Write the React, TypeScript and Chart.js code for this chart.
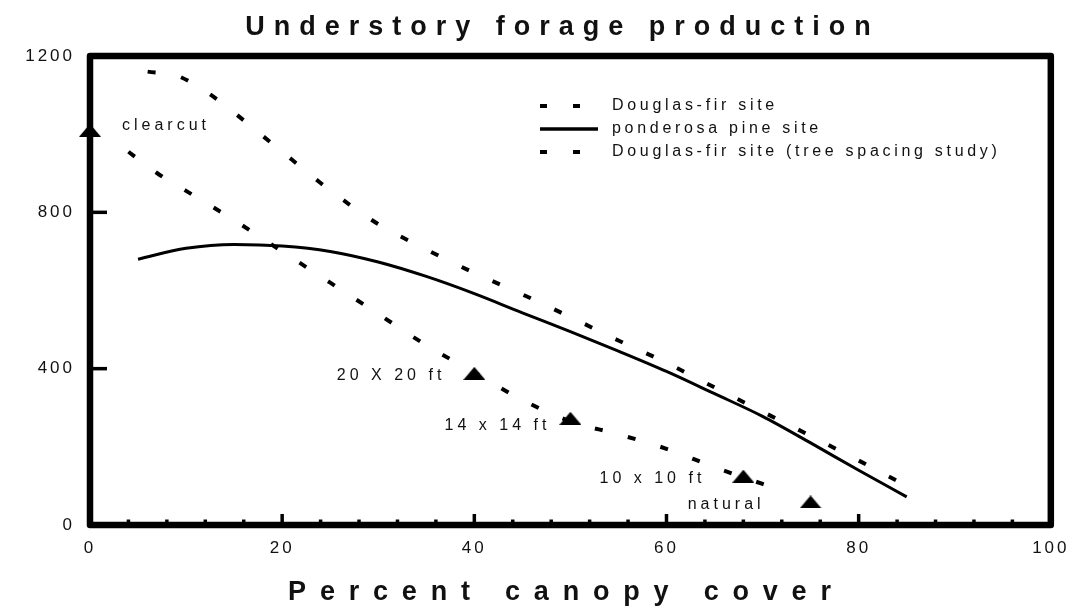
import { useEffect, useRef } from "react";
import { Chart, registerables } from "chart.js";

Chart.register(...registerables);

// ---------- data ----------
const douglasX = [6, 9, 12, 15, 18, 21, 24, 27, 30, 35, 40, 45, 50, 55, 60, 65, 70, 75, 80, 85];
const douglasY = [1160, 1150, 1110, 1055, 995, 935, 875, 820, 770, 705, 645, 590, 532, 472, 415, 352, 290, 228, 165, 100];

const pineX = [5, 10, 15, 20, 25, 30, 35, 40, 45, 50, 55, 60, 65, 70, 75, 80, 85];
const pineY = [680, 708, 718, 714, 700, 673, 636, 592, 543, 495, 445, 393, 336, 278, 210, 140, 72];

const spacingX = [4, 7, 10, 15, 20, 25, 30, 35, 40, 45, 50, 55, 60, 65, 70, 72];
const spacingY = [955, 900, 855, 780, 700, 620, 540, 460, 390, 320, 265, 232, 195, 148, 105, 88];

const markerX = [0, 40, 50, 68, 75];
const markerY = [1010, 388, 273, 125, 59];
const markerLabels = ["clearcut", "20 X 20 ft", "14 x 14 ft", "10 x 10 ft", "natural"];

const seriesNames = ["Douglas-fir site", "ponderosa pine site", "Douglas-fir site (tree spacing study)"];

const titleText = "Understory forage production";
const xTitleText = "Percent canopy cover";

const xMin = 0, xMax = 100, xStep = 20, xMinorStep = 4;
const yMin = 0, yMax = 1200, yStep = 400;

// ---------- styling / placement (not data) ----------
const FONT = "Arial, 'Liberation Sans', sans-serif";
const INK = "#111";
// label offsets from each marker pixel: [dx, dy, align]
const labelOffsets: [number, number, CanvasTextAlign][] = [
  [32, -5, "left"],
  [-29, 2, "right"],
  [-20, 7, "right"],
  [-38, 2, "right"],
  [-46, 3, "right"],
];

function makeTriangle(w: number, h: number) {
  const c = document.createElement("canvas");
  c.width = w;
  c.height = h;
  const g = c.getContext("2d")!;
  g.fillStyle = "#000";
  g.beginPath();
  g.moveTo(w / 2, 0);
  g.lineTo(w, h);
  g.lineTo(0, h);
  g.closePath();
  g.fill();
  return c;
}

const toPts = (xs: number[], ys: number[]) => xs.map((x, i) => ({ x, y: ys[i] }));

const decor = {
  id: "decor",
  beforeDraw(chart: any) {
    chart.ctx.letterSpacing = "3px";
  },
  afterDraw(chart: any) {
    const { ctx, chartArea: a } = chart;
    const xs = chart.scales.x;
    const ys = chart.scales.y;
    ctx.save();
    ctx.letterSpacing = "0px";
    ctx.strokeStyle = "#000";
    ctx.lineCap = "butt";

    // inward tick marks
    ctx.lineWidth = 3.5;
    for (let v = xMin; v <= xMax + 1e-9; v += xMinorStep) {
      const px = xs.getPixelForValue(v);
      const major = Math.abs(v % xStep) < 1e-9;
      ctx.beginPath();
      ctx.moveTo(px, a.bottom);
      ctx.lineTo(px, a.bottom - (major ? 11 : 5.5));
      ctx.stroke();
    }
    ys.ticks.forEach((t: any) => {
      const py = ys.getPixelForValue(t.value);
      ctx.beginPath();
      ctx.moveTo(a.left, py);
      ctx.lineTo(a.left + 17, py);
      ctx.stroke();
    });

    // frame
    ctx.lineWidth = 6.5;
    ctx.lineJoin = "round";
    ctx.strokeRect(a.left, a.top, a.right - a.left, a.bottom - a.top);

    ctx.fillStyle = INK;
    // title
    ctx.font = `bold 27px ${FONT}`;
    ctx.letterSpacing = "9px";
    ctx.textAlign = "center";
    ctx.textBaseline = "alphabetic";
    ctx.fillText(titleText, (a.left + a.right) / 2 - 8, 35);

    // x axis title
    ctx.font = `bold 27px ${FONT}`;
    ctx.letterSpacing = "13.8px";
    ctx.fillText(xTitleText, (a.left + a.right) / 2 - 4, 600);

    // marker annotations
    ctx.font = `16px ${FONT}`;
    ctx.letterSpacing = "4px";
    ctx.textBaseline = "middle";
    markerLabels.forEach((lab, i) => {
      const [dx, dy, al] = labelOffsets[i];
      const px = xs.getPixelForValue(markerX[i]);
      const py = ys.getPixelForValue(markerY[i]);
      ctx.textAlign = al;
      ctx.fillText(lab, px + dx, py + dy);
    });

    // legend
    const lx = a.left + 450;
    const tx = a.left + 522;
    const rows = [a.top + 50, a.top + 73, a.top + 96];
    ctx.textAlign = "left";
    ctx.letterSpacing = "3.7px";
    seriesNames.forEach((name, i) => {
      const yy = rows[i];
      ctx.beginPath();
      if (i === 1) {
        ctx.setLineDash([]);
        ctx.lineWidth = 3.5;
        ctx.moveTo(lx, yy);
        ctx.lineTo(lx + 58, yy);
      } else {
        ctx.setLineDash([7, 26]);
        ctx.lineWidth = 4;
        ctx.moveTo(lx, yy);
        ctx.lineTo(lx + 42, yy);
      }
      ctx.stroke();
      ctx.setLineDash([]);
      ctx.fillText(name, tx, yy);
    });
    ctx.restore();
  },
};

export default function App() {
  const ref = useRef<HTMLCanvasElement | null>(null);
  useEffect(() => {
    const canvas = ref.current!;
    const tri = makeTriangle(22, 13);
    const chart = new Chart(canvas, {
      type: "line",
      data: {
        datasets: [
          {
            label: seriesNames[0],
            data: toPts(douglasX, douglasY),
            borderColor: "#000",
            borderWidth: 4,
            borderDash: [8, 26],
            pointRadius: 0,
            cubicInterpolationMode: "monotone",
            fill: false,
          },
          {
            label: seriesNames[1],
            data: toPts(pineX, pineY),
            borderColor: "#000",
            borderWidth: 3,
            pointRadius: 0,
            cubicInterpolationMode: "monotone",
            fill: false,
          },
          {
            label: seriesNames[2],
            data: toPts(spacingX, spacingY),
            borderColor: "#000",
            borderWidth: 4,
            borderDash: [8, 26],
            pointRadius: 0,
            cubicInterpolationMode: "monotone",
            fill: false,
          },
          {
            label: "treatments",
            data: toPts(markerX, markerY),
            showLine: false,
            pointStyle: tri as any,
            pointRadius: 11,
            backgroundColor: "#000",
            borderColor: "#000",
            clip: false as any,
          },
        ],
      },
      options: {
        animation: false,
        responsive: false,
        devicePixelRatio: 1,
        layout: { padding: { top: 56, right: 24, bottom: 0, left: 0 } },
        plugins: {
          legend: { display: false },
          title: { display: false },
          tooltip: { enabled: false },
        },
        scales: {
          x: {
            type: "linear",
            min: xMin,
            max: xMax,
            ticks: {
              stepSize: xStep,
              padding: 13,
              color: INK,
              font: { size: 17, family: FONT },
              maxRotation: 0,
              callback: (v: any) => String(v),
            },
            grid: { display: false, drawTicks: false },
            border: { display: false },
            afterFit: (s: any) => {
              s.height = 81;
            },
          },
          y: {
            type: "linear",
            min: yMin,
            max: yMax,
            ticks: {
              stepSize: yStep,
              padding: 15,
              color: INK,
              font: { size: 17, family: FONT },
              callback: (v: any) => String(v),
            },
            grid: { display: false, drawTicks: false },
            border: { display: false },
            afterFit: (s: any) => {
              s.width = 90;
            },
          },
        },
      },
      plugins: [decor],
    });
    return () => chart.destroy();
  }, []);

  return (
    <div style={{ position: "fixed", left: 0, top: 0, width: 1078, height: 606, background: "#fff" }}>
      <canvas ref={ref} width={1078} height={606} style={{ display: "block" }} />
    </div>
  );
}
